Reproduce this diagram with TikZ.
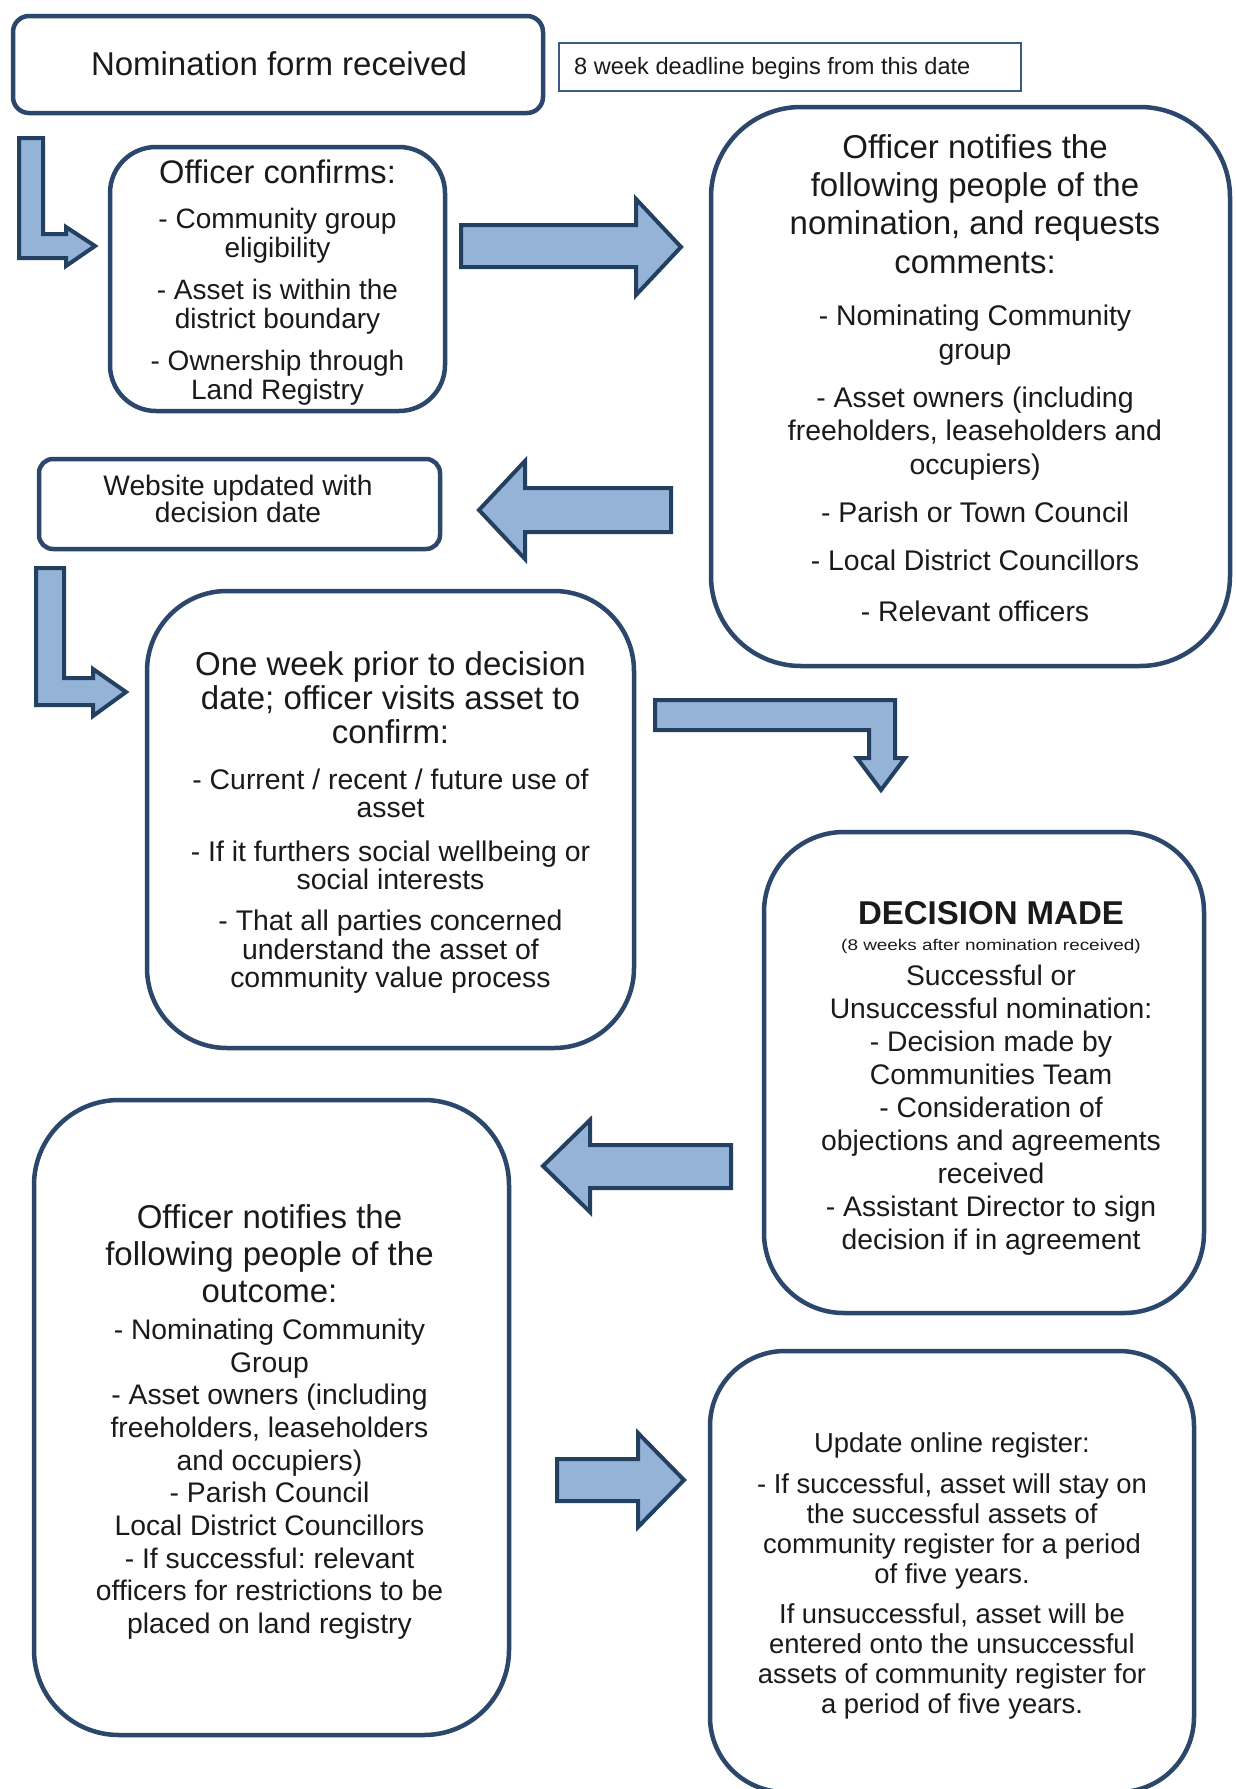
\documentclass[tikz,border=0pt]{standalone}
\usepackage{fontspec}
\usepackage{graphicx}
\setmainfont{Liberation Sans}
\definecolor{boxline}{RGB}{43,72,108}
\definecolor{thinline}{RGB}{60,90,130}
\definecolor{arrfill}{RGB}{149,179,215}
\definecolor{arrline}{RGB}{36,64,97}
\definecolor{txt}{RGB}{26,26,26}
\newcommand\fsz[2]{\fontsize{#1}{#2}\selectfont\spaceskip=\fontdimen2\font\xspaceskip=\fontdimen2\font\relax}
\begin{document}
\begin{tikzpicture}[x=1pt,y=-1pt,
  box/.style={draw=boxline, line width=4.5pt, fill=white, inner sep=0pt},
  lbl/.style={text=txt, align=center, inner sep=0pt, anchor=base},
  blockarrow/.style={draw=arrline, fill=arrfill, line width=4pt, line join=miter}]
\useasboundingbox (0,0) rectangle (1235,1789);
\fill[white] (0,0) rectangle (1235,1789);

% ---------- boxes ----------
\node[box, rounded corners=16pt, minimum width=530pt, minimum height=97pt] (nom) at (278,64.5) {};
\node[draw=thinline, line width=2.5pt, fill=white, inner sep=0pt, minimum width=462pt, minimum height=48pt] (deadline) at (790,67) {};
\node[box, rounded corners=46pt, minimum width=335pt, minimum height=264pt] (confirms) at (277.5,279) {};
\node[box, rounded corners=90pt, minimum width=519pt, minimum height=559pt] (notifies) at (970.5,386.5) {};
\node[box, rounded corners=14pt, minimum width=401pt, minimum height=90pt] (website) at (239.5,504) {};
\node[box, rounded corners=80pt, minimum width=487pt, minimum height=457pt] (oneweek) at (390.5,819.5) {};
\node[box, rounded corners=80pt, minimum width=440pt, minimum height=481pt] (decision) at (984,1072.5) {};
\node[box, rounded corners=85pt, minimum width=475pt, minimum height=635pt] (outcome) at (271.5,1417.5) {};
\node[box, rounded corners=75pt, minimum width=484pt, minimum height=441pt] (update) at (952,1571.5) {};

% ---------- block arrows ----------
\draw[blockarrow] (19,138) -- (43,138) -- (43,234) -- (66,234) -- (66,227) -- (95,246) -- (66,266) -- (66,258) -- (19,258) -- cycle;
\draw[blockarrow] (461,225) -- (636,225) -- (636,199) -- (681,247) -- (636,295) -- (636,267) -- (461,267) -- cycle;
\draw[blockarrow] (671,488) -- (525,488) -- (525,461) -- (479,510) -- (525,559) -- (525,532) -- (671,532) -- cycle;
\draw[blockarrow] (36,568) -- (64,568) -- (64,678) -- (93,678) -- (93,669) -- (126,692) -- (93,716) -- (93,705) -- (36,705) -- cycle;
\draw[blockarrow] (655,700) -- (895,700) -- (895,758) -- (905,758) -- (881,790) -- (857,758) -- (869,758) -- (869,730) -- (655,730) -- cycle;
\draw[blockarrow] (731,1145) -- (590,1145) -- (590,1120) -- (543,1166) -- (590,1212) -- (590,1188) -- (731,1188) -- cycle;
\draw[blockarrow] (557,1459) -- (638,1459) -- (638,1433) -- (684,1480) -- (638,1527) -- (638,1501) -- (557,1501) -- cycle;

% ---------- texts ----------
\node[lbl] (nomtxt) at (279,75) {\fsz{33}{38}Nomination form received};
\node[text=txt, inner sep=0pt, anchor=base west] (deadlinetxt) at (574,74.5) {\fsz{23.6}{26}8 week deadline begins from this date};

\node[lbl, text width=320pt] (confirmstxt) at (277.5,183) {%
{\fsz{32.6}{36}Officer confirms:\par}\vspace{16.7pt}%
{\fsz{28}{29}- Community group\\ eligibility\\[13pt] - Asset is within the\\ district boundary\\[13pt] - Ownership through\\ Land Registry\par}};

\node[lbl, text width=470pt] (notifiestxt) at (975,158) {%
{\fsz{33}{38.4}Officer notifies the\\ following people of the\\ nomination, and requests\\ comments:\par}\vspace{19pt}%
{\fsz{28.4}{33.5}- Nominating Community\\ group\\[14.5pt] - Asset owners (including\\ freeholders, leaseholders and\\ occupiers)\\[14.5pt] - Parish or Town Council\\[14.5pt] - Local District Councillors\\[18pt] - Relevant officers\par}};

\node[lbl, text width=380pt] (websitetxt) at (238,495) {\fsz{28.2}{30}Website updated with\\ decision date};

\node[lbl, text width=470pt] (oneweektxt) at (390.5,675) {%
{\fsz{33}{34.2}One week prior to decision\\ date; officer visits asset to\\ confirm:\par}\vspace{17.2pt}%
{\fsz{28.4}{28.5}- Current / recent / future use of\\ asset\\[15pt] - If it furthers social wellbeing or\\ social interests\\[12.6pt] - That all parties concerned\\ understand the asset of\\ community value process\par}};

\node[lbl, text width=420pt] (decisiontxt) at (991,924) {%
{\fsz{33}{36}\bfseries DECISION MADE\par}%
{\fsz{15.5}{26.5}\scalebox{1.22}[1]{(8 weeks after nomination received)}\par}\vspace{2.1pt}%
{\fsz{28.3}{33}Successful or\\ Unsuccessful nomination:\\ - Decision made by\\ Communities Team\\ - Consideration of\\ objections and agreements\\ received\\ - Assistant Director to sign\\ decision if in agreement\par}};

\node[lbl, text width=460pt] (outcometxt) at (269.5,1228) {%
{\fsz{33}{37}Officer notifies the\\ following people of the\\ outcome:\par}\vspace{4.6pt}%
{\fsz{28.3}{32.7}- Nominating Community\\ Group\\ - Asset owners (including\\ freeholders, leaseholders\\ and occupiers)\\ - Parish Council\\ Local District Councillors\\ - If successful: relevant\\ officers for restrictions to be\\ placed on land registry\par}};

\node[lbl, text width=470pt] (updatetxt) at (952,1452) {%
{\fsz{27.4}{30}Update online register:\\[11pt] - If successful, asset will stay on\\ the successful assets of\\ community register for a period\\ of five years.\\[10pt] If unsuccessful, asset will be\\ entered onto the unsuccessful\\ assets of community register for\\ a period of five years.\par}};
\end{tikzpicture}
\end{document}
